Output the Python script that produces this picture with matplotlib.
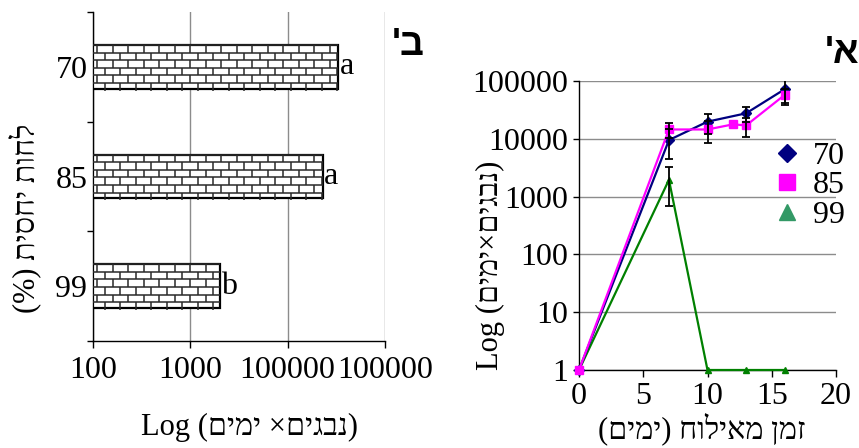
import numpy as np
import matplotlib
matplotlib.use('Agg')
import matplotlib.pyplot as plt
from matplotlib.collections import LineCollection
from matplotlib.lines import Line2D
from matplotlib.ticker import NullLocator

plt.rcParams['font.family'] = ['Liberation Serif', 'DejaVu Serif', 'DejaVu Sans']


def visual(s):
    # matplotlib has no bidi support, so hebrew is laid out right-to-left by hand
    return s[::-1].translate(str.maketrans('()', ')('))


# panel b: totals per relative humidity
humidity = ['70', '85', '99']
total_spores = [33000, 23000, 2000]
groups = ['a', 'a', 'b']
bar_ticks = [100, 1000, 10000, 100000]
bar_tick_labels = ['100', '1000', '100000', '100000']

# panel a: spores over time after inoculation
days_70 = [0, 7, 10, 13, 16]
spores_70 = [1, 9500, 19800, 27600, 71900]
err_70 = [0, 5000, 7500, 8400, 34000]

days_85 = [0, 7, 10, 12, 13, 16]
spores_85 = [1, 14500, 14500, 17800, 17000, 57300]
err_85 = [0, 4200, 6000, 0, 6100, 16000]

days_99 = [0, 7, 10, 13, 16]
spores_99 = [1, 1950, 1, 1, 1]
err_99 = [0, 1270, 0, 0, 0]

time_ticks = [0, 5, 10, 15, 20]
log_ticks = [1, 10, 100, 1000, 10000, 100000]
log_tick_labels = ['1', '10', '100', '1000', '10000', '100000']

fs = 23
lab_fs = 22

fig = plt.figure(figsize=(8.59, 4.48), dpi=100)
ax1 = fig.add_axes([93/859, 1 - 341/448, 292/859, 329/448])
ax2 = fig.add_axes([579/859, 1 - 370/448, 257/859, 289/448])

# ---- panel b ----
ax1.set_xscale('log')
ax1.set_xlim(bar_ticks[0], bar_ticks[-1])
ax1.set_ylim(2.5, -0.5)
ypos = np.arange(len(humidity))
bars = ax1.barh(ypos, np.array(total_spores) - bar_ticks[0], left=bar_ticks[0],
                height=0.4, color='white', edgecolor='black', linewidth=1.6, zorder=3)


def brick_fill(ax, patch, row_h=7.6, brick_w=15.5):
    bb = patch.get_window_extent()
    segs = []
    y = bb.y1
    row = 0
    while y > bb.y0:
        y_next = y - row_h
        segs.append([(bb.x0, y), (bb.x1, y)])
        x = bb.x0 + (brick_w / 2) * (row % 2) + 4
        while x < bb.x1:
            segs.append([(x, y), (x, y_next)])
            x += brick_w
        y = y_next
        row += 1
    inv = ax.transAxes.inverted()
    segs = [inv.transform(s) for s in segs]
    lc = LineCollection(segs, transform=ax.transAxes, colors='#2a2a2a',
                        linewidths=1.1, zorder=3.5)
    lc.set_clip_path(patch)
    ax.add_collection(lc)


for b in bars:
    brick_fill(ax1, b)

for i, (v, g) in enumerate(zip(total_spores, groups)):
    ax1.annotate(g, (v, i), xytext=(1, 0), textcoords='offset points',
                 ha='left', va='center', fontsize=fs)

ax1.set_xticks(bar_ticks, bar_tick_labels)
ax1.xaxis.set_minor_locator(NullLocator())
ax1.set_yticks(ypos, humidity)
ax1.set_yticks([-0.5, 0.5, 1.5, 2.5], minor=True)
ax1.tick_params(axis='y', which='major', length=0, pad=4, labelsize=fs)
ax1.tick_params(axis='y', which='minor', length=4, width=1)
ax1.tick_params(axis='x', which='major', length=5, width=1, pad=6, labelsize=fs)
ax1.grid(axis='x', color='#8c8c8c', linewidth=1, zorder=0)
ax1.spines[['top', 'right']].set_visible(False)
for s in ['left', 'bottom']:
    ax1.spines[s].set_linewidth(1)

fig.text(249/859, 1 - 427/448, 'Log (' + visual('נבגים× ימים') + ')',
         ha='center', va='center', fontsize=lab_fs)
fig.text(25/859, 1 - 218/448, visual('לחות יחסית (%)'), rotation=90,
         ha='center', va='center', fontsize=lab_fs)
fig.text(408/859, 1 - 45/448, visual("ב'"), ha='center', va='center',
         fontsize=27, fontweight='bold', family=['Liberation Sans', 'DejaVu Sans'])

# ---- panel a ----
ax2.set_yscale('log')
ax2.set_xlim(time_ticks[0], time_ticks[-1])
ax2.set_ylim(log_ticks[0], log_ticks[-1])

ax2.plot(days_99, spores_99, color='#008000', lw=1.6, marker='^', ms=5,
         clip_on=False, zorder=3)
ax2.plot(days_70, spores_70, color='#000080', lw=1.6, marker='D', ms=5,
         clip_on=False, zorder=3)
ax2.plot(days_85, spores_85, color='#ff00ff', lw=1.6, marker='s', ms=6,
         clip_on=False, zorder=3)

for d, v, e in [(days_70, spores_70, err_70), (days_85, spores_85, err_85),
                (days_99, spores_99, err_99)]:
    d, v, e = np.array(d), np.array(v), np.array(e)
    m = e > 0
    ax2.errorbar(d[m], v[m], yerr=e[m], fmt='none', ecolor='black',
                 elinewidth=1.3, capsize=3, capthick=1.3, zorder=4)

ax2.set_xticks(time_ticks, [str(t) for t in time_ticks])
ax2.set_yticks(log_ticks, log_tick_labels)
ax2.yaxis.set_minor_locator(NullLocator())
ax2.tick_params(axis='x', length=5, width=1, pad=4, labelsize=fs)
ax2.tick_params(axis='y', length=4, width=1, pad=4, labelsize=fs)
ax2.grid(axis='y', color='#8c8c8c', linewidth=1, zorder=0)
ax2.spines[['top', 'right']].set_visible(False)
for s in ['left', 'bottom']:
    ax2.spines[s].set_linewidth(1)

handles = [Line2D([], [], ls='none', marker='D', color='#000080', ms=9),
           Line2D([], [], ls='none', marker='s', color='#ff00ff', ms=12),
           Line2D([], [], ls='none', marker='^', color='#339966', ms=12)]
ax2.legend(handles, humidity, loc='upper left', bbox_to_anchor=(0.76, 0.79),
           frameon=False, handlelength=0.8, handletextpad=0.4, labelspacing=0.0,
           borderpad=0, borderaxespad=0, fontsize=fs)

fig.text(702/859, 1 - 429/448, visual('זמן מאילוח (ימים)'),
         ha='center', va='center', fontsize=lab_fs)
fig.text(490/859, 1 - 265/448, 'Log (' + visual('נבגים×ימים') + ')', rotation=90,
         ha='center', va='center', fontsize=lab_fs)
fig.text(842/859, 1 - 53/448, visual("א'"), ha='center', va='center',
         fontsize=27, fontweight='bold', family=['Liberation Sans', 'DejaVu Sans'])

fig.savefig('out.png', dpi=100)
